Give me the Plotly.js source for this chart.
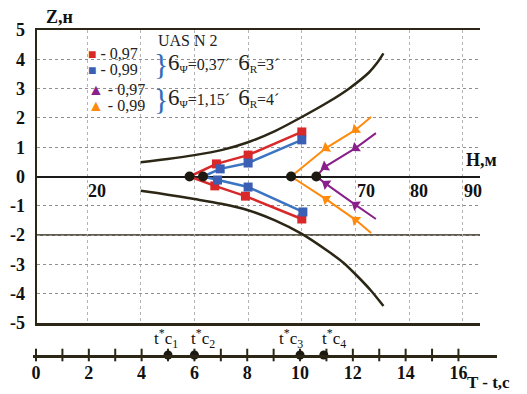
<!DOCTYPE html>
<html><head><meta charset="utf-8">
<script src="https://cdn.plot.ly/plotly-3.0.1.min.js"></script>
<style>html,body{margin:0;padding:0;background:#fff}</style>
</head><body><div id="chart" style="width:527px;height:394px"></div>
<script>
// ---- data ----
const hGridTicks = [20, 30, 40, 50, 60, 70, 80, 90];
const hLabelTicks = [20, 70, 80, 90];
const zTicks = [-5, -4, -3, -2, -1, 0, 1, 2, 3, 4, 5];
const solidZLevels = [-2];
const tTicks = [0, 1, 2, 3, 4, 5, 6, 7, 8, 9, 10, 11, 12, 13, 14, 15, 16];
const tLabelTicks = [0, 2, 4, 6, 8, 10, 12, 14, 16];
const tcTimes = [5, 6, 10, 10.9];
const tcLabels = ['t<sup>*</sup>c<sub>1</sub>', 't<sup>*</sup>c<sub>2</sub>', 't<sup>*</sup>c<sub>3</sub>', 't<sup>*</sup>c<sub>4</sub>'];

const envUpH   = [30, 35, 40, 45, 50, 55, 60, 65, 68.7, 72.5, 74, 75.2];
const envUpper = [0.49, 0.6, 0.73, 0.9, 1.17, 1.55, 2.03, 2.55, 2.99, 3.55, 3.87, 4.2];
const envLowH  = [30, 35, 40, 45, 50, 55, 60, 65.1, 67.8, 70.5, 72.9, 75.2];
const envLower = [-0.49, -0.62, -0.77, -0.93, -1.15, -1.5, -1.96, -2.58, -2.95, -3.43, -3.9, -4.42];

const redUpH = [39.1, 44.1, 50.0, 60.0],   redUpZ = [0, 0.43, 0.73, 1.52];
const redLowH = [39.1, 43.8, 49.5, 60.0],  redLowZ = [0, -0.32, -0.67, -1.45];
const blueUpH = [41.6, 44.8, 50.0, 60.0],  blueUpZ = [0, 0.26, 0.46, 1.25];
const blueLowH = [41.6, 44.3, 50.0, 60.2], blueLowZ = [0, -0.12, -0.36, -1.21];
const orangeUpH = [58.0, 64.5, 70.0, 72.9],  orangeUpZ = [0, 0.97, 1.59, 2.03];
const orangeLowH = [58.0, 64.5, 70.0, 72.9], orangeLowZ = [0, -0.77, -1.48, -1.93];
const purpleUpH = [62.7, 64.3, 70.0, 73.8],  purpleUpZ = [0, 0.33, 0.97, 1.48];
const purpleLowH = [62.7, 64.5, 70.0, 73.8], purpleLowZ = [0, -0.25, -0.97, -1.45];

const legendSymbols = ['■', '■', '▲', '▲'];
const legendTexts = ['- 0,97', '- 0,99', '- 0,97', '- 0,99'];
const groupTexts = ['6<sub>Ψ</sub>=0,37´  6<sub>R</sub>=3´', '6<sub>Ψ</sub>=1,15´  6<sub>R</sub>=4´'];
const headerText = 'UAS N 2';

// ---- styles ----
const SERIF = "Liberation Serif";
const DARK = '#2b2615';
const C = {red: '#d8282a', blue: '#3a5fb5', blueLine: '#3b74c2', purple: '#8a1f8c', orange: '#ff8a0c', brace: '#2f6bb8'};
const legendColors = [C.red, C.blue, C.purple, C.orange];
const tcLabelShift = [-2, 9, -9, 10];

const traces = [];
function env(h, z) {
  traces.push({x: h, y: z, mode: 'lines', line: {color: DARK, width: 2.5, shape: 'spline', smoothing: 0.8}, hoverinfo: 'skip'});
}
env(envUpH, envUpper); env(envLowH, envLower);

function branch(h, z, lineColor, markColor, symbol, size, lw, arrow) {
  traces.push({x: h, y: z, mode: 'lines', line: {color: lineColor, width: lw}});
  let mh = h.slice(1), mz = z.slice(1);
  const m = {color: markColor, symbol: symbol, size: size};
  if (arrow) { mh = mh.slice().reverse(); mz = mz.slice().reverse(); m.angleref = 'previous'; }
  traces.push({x: mh, y: mz, mode: 'markers', marker: m});
}
branch(redUpH, redUpZ, C.red, C.red, 'square', 9, 2.5, false);
branch(redLowH, redLowZ, C.red, C.red, 'square', 9, 2.5, false);
branch(blueUpH, blueUpZ, C.blueLine, C.blue, 'square', 9, 2.5, false);
branch(blueLowH, blueLowZ, C.blueLine, C.blue, 'square', 9, 2.5, false);
branch(orangeUpH, orangeUpZ, C.orange, C.orange, 'triangle-up', 10, 2, true);
branch(orangeLowH, orangeLowZ, C.orange, C.orange, 'triangle-up', 10, 2, true);
branch(purpleUpH, purpleUpZ, C.purple, C.purple, 'triangle-up', 10, 2, true);
branch(purpleLowH, purpleLowZ, C.purple, C.purple, 'triangle-up', 10, 2, true);

traces.push({x: [redUpH[0], blueUpH[0], orangeUpH[0], purpleUpH[0]],
             y: [redUpZ[0], blueUpZ[0], orangeUpZ[0], purpleUpZ[0]],
             mode: 'markers', marker: {color: '#1c1a10', size: 10}});

traces.push({x: tTicks, y: tTicks.map(() => 0), xaxis: 'x2', yaxis: 'y2', mode: 'markers', cliponaxis: false,
             marker: {symbol: 'line-ns-open', size: 9, color: DARK, line: {color: DARK, width: 2}}});
traces.push({x: tcTimes, y: tcTimes.map(() => 0), xaxis: 'x2', yaxis: 'y2', mode: 'markers', cliponaxis: false,
             marker: {color: '#1c1a10', size: 9}});

const ML = 33, MR = 30, MT = 30, MB = 39, W = 527, H = 394;
const PW = W - ML - MR, PH = H - MT - MB;
const px = v => (v - ML) / PW;
const py = v => (H - MB - v) / PH;

const ann = [];
const bold = (size) => ({family: SERIF, size: size, color: '#111', weight: 700});
hLabelTicks.forEach(v => ann.push({x: v, y: 0, xref: 'x', yref: 'y', text: String(v), showarrow: false,
  xanchor: 'left', yanchor: 'top', yshift: -2, xshift: -1, font: bold(18)}));
tcTimes.forEach((t, i) => ann.push({x: t, y: py(338), xref: 'x2', yref: 'paper', text: tcLabels[i], showarrow: false,
  xanchor: 'center', yanchor: 'middle', xshift: tcLabelShift[i], font: {family: SERIF, size: 17, color: '#111'}}));
ann.push({x: px(44), y: py(17), xref: 'paper', yref: 'paper', text: 'Z,н', showarrow: false, xanchor: 'left', yanchor: 'middle', font: bold(18)});
ann.push({x: px(464), y: py(160), xref: 'paper', yref: 'paper', text: 'Н,м', showarrow: false, xanchor: 'left', yanchor: 'middle', font: bold(18)});
ann.push({x: px(465), y: py(382), xref: 'paper', yref: 'paper', text: 'T - t,c', showarrow: false, xanchor: 'left', yanchor: 'middle', font: bold(17)});

ann.push({x: px(188), y: py(40), xref: 'paper', yref: 'paper', text: headerText, showarrow: false, xanchor: 'center', yanchor: 'middle',
  font: {family: SERIF, size: 16, color: '#222'}});
const rowY = [53, 69, 89, 106];
legendTexts.forEach((t, i) => ann.push({x: px(86), y: py(rowY[i]), xref: 'paper', yref: 'paper', showarrow: false,
  xanchor: 'left', yanchor: 'middle',
  text: '<span style="color:' + legendColors[i] + ';font-size:' + (i < 2 ? 14 : 16) + 'px">' + legendSymbols[i] + '</span> ' + t,
  font: {family: SERIF, size: 16, color: '#222'}}));
const braceY = [63, 98];
groupTexts.forEach((t, i) => {
  ann.push({x: px(152), y: py(braceY[i]), xref: 'paper', yref: 'paper', showarrow: false, xanchor: 'left', yanchor: 'middle',
    text: '}', font: {family: SERIF, size: 30, color: C.brace}});
  ann.push({x: px(166), y: py(braceY[i] - 1), xref: 'paper', yref: 'paper', showarrow: false, xanchor: 'left', yanchor: 'middle',
    text: t.replace(/6/g, '<span style="font-size:23px">6</span>'), font: {family: SERIF, size: 16, color: '#222'}});
});

const layout = {
  width: W, height: H, margin: {l: ML, r: MR, t: MT, b: MB},
  paper_bgcolor: '#fff', plot_bgcolor: 'rgba(0,0,0,0)', showlegend: false,
  font: {family: SERIF, color: '#111'},
  xaxis: {domain: [px(37), px(480)], range: [10.69, 93.18], tickvals: hGridTicks, showticklabels: false, ticks: '',
    showgrid: true, gridcolor: '#b3b3b3', griddash: 'dot', gridwidth: 1, zeroline: false,
    showline: true, linecolor: DARK, linewidth: 2.5, mirror: true, anchor: 'y'},
  yaxis: {domain: [py(323), 1], range: [-5, 5], tickvals: zTicks, ticktext: zTicks.map(String), ticks: '',
    showgrid: true, gridcolor: '#8f8f8f', griddash: 'dot', gridwidth: 1,
    zeroline: true, zerolinecolor: '#1a1a1a', zerolinewidth: 2,
    showline: true, linecolor: DARK, linewidth: 2.5, tickfont: bold(18), ticklabelstandoff: 6, anchor: 'x'},
  xaxis2: {domain: [0, 1], range: [-0.114, 17.46], anchor: 'y2', tickvals: tLabelTicks, ticktext: tLabelTicks.map(String),
    ticks: '', showgrid: false, zeroline: false, showline: true, linecolor: DARK, linewidth: 2.5,
    tickfont: bold(18), ticklabelstandoff: 0},
  yaxis2: {domain: [0, 0.02], range: [0, 1], anchor: 'x2', visible: false},
  shapes: solidZLevels.map(z => ({type: 'line', xref: 'x domain', x0: 0, x1: 1, yref: 'y', y0: z, y1: z,
    line: {color: DARK, width: 1.5}, layer: 'below'})),
  annotations: ann
};

Plotly.newPlot('chart', traces, layout, {displayModeBar: false, staticPlot: true});
</script></body></html>
